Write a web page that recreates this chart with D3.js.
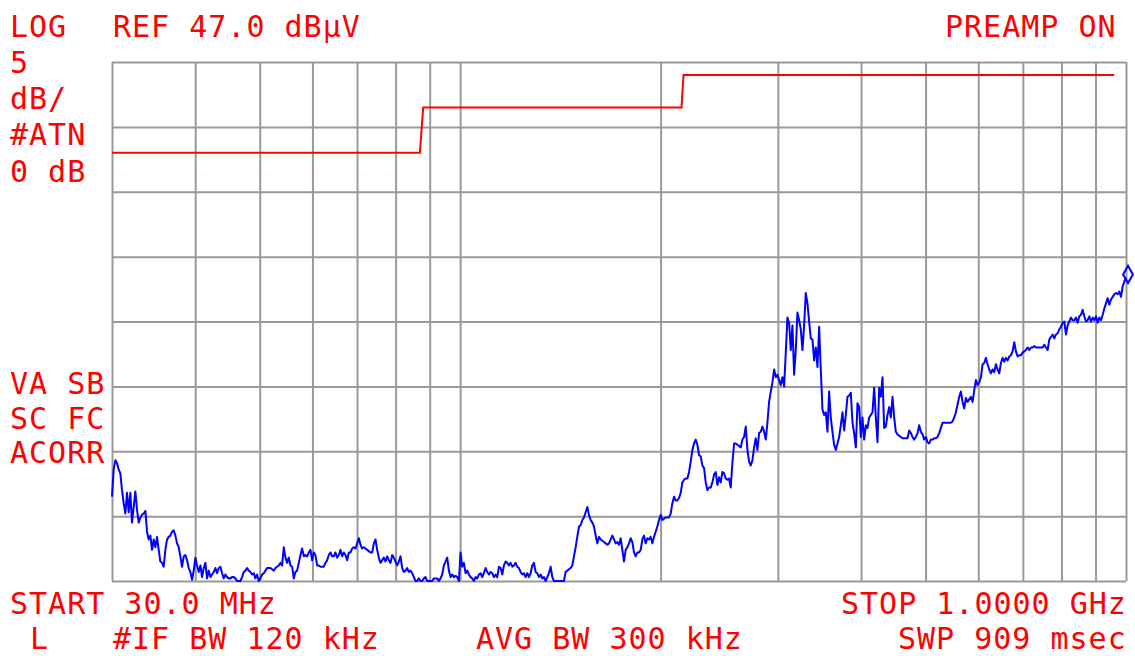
<!DOCTYPE html>
<html>
<head>
<meta charset="utf-8">
<script src="https://cdn.jsdelivr.net/npm/d3@7"></script>
<style>
  body { margin: 0; background: #fff; }
  #chart-area text {
    font-family: "DejaVu Sans Mono", monospace;
    font-size: 30px;
    letter-spacing: 1px;
    fill: #ff0000;
  }
</style>
</head>
<body>
<div id="chart-area"></div>
<script>
// grid frequencies (MHz) of the log axis, 30 MHz .. 1 GHz
var gridFreqs = [30, 40, 50, 60, 70, 80, 90, 100, 200, 300, 400, 500, 600, 700, 800, 900, 1000];
// grid levels (dBuV), REF 47 at the top, 5 dB/div
var gridLevels = [7, 12, 17, 22, 27, 32, 37, 42, 47];

// limit line (red)
var limitFreqs = [30, 87, 88, 215, 216.5, 960];
var limitLevels = [40, 40, 43.5, 43.5, 46, 46];

// measured trace (dBuV), sweep points log-spaced from 30 MHz to 1 GHz
var traceLevels = [
  13.5, 15.6, 16.3, 16.1, 15.6,
  15.3, 14.0, 13.0, 12.2, 13.8, 12.3, 13.8, 11.5, 12.7, 13.9, 12.5, 11.5, 11.9, 12.1, 12.2, 12.4, 10.8, 10.2, 10.5, 9.4, 10.2, 9.6, 10.4, 9.4, 8.5, 8.4, 8.1, 9.4, 10.2, 10.4,
  10.5, 10.8, 10.9, 10.5, 9.9, 9.6, 8.9, 8.1, 8.9, 9.0, 8.6, 8.0, 7.7, 7.1, 7.8, 8.8, 8.2, 7.7, 8.2, 7.3, 8.0, 8.4, 7.2, 7.8, 7.3, 7.5, 7.7, 8.0, 7.6, 8.0,
  8.1, 7.6, 7.2, 7.5, 7.3, 7.2, 7.2, 7.3, 7.3, 7.2, 7.0, 7.0, 7.0, 7.3, 7.7, 7.8, 8.0, 7.8, 7.7, 7.5, 7.6, 7.2, 7.5, 7.0, 7.2, 7.5, 7.6, 7.8, 8.0, 8.0,
  8.0, 7.9, 7.8, 8.0, 8.1, 8.2, 8.4, 8.2, 9.6, 8.8, 8.4, 8.8, 8.2, 8.1, 7.2, 7.7, 7.8, 8.4, 9.0, 9.5, 8.9, 9.0, 8.9, 9.2, 9.4, 8.6, 9.2, 9.0, 8.2, 8.2,
  8.1, 8.1, 8.1, 8.4, 8.6, 9.0, 9.2, 8.9, 8.9, 9.2, 8.8, 9.0, 9.4, 8.9, 9.2, 9.0, 8.6, 9.2, 9.2, 9.5, 9.6, 9.5, 9.9, 10.3, 9.8, 9.5, 9.6, 9.5, 9.4, 9.3,
  9.2, 9.2, 9.9, 10.2, 9.4, 8.8, 8.4, 8.6, 8.8, 8.5, 8.9, 8.6, 8.4, 9.0, 8.8, 8.5, 8.2, 8.5, 8.9, 8.0, 7.7, 7.8, 8.0, 7.7, 7.8, 7.6, 7.3, 7.0, 7.0, 7.2,
  7.0, 7.0, 7.2, 7.3, 7.0, 7.0, 7.0, 7.0, 7.2, 7.2, 7.2, 7.0, 7.2, 7.5, 8.2, 8.5, 8.8, 7.8, 7.3, 7.5, 7.3, 7.4, 7.3, 7.0, 9.2, 8.1, 8.4, 7.6, 7.8, 7.5,
  7.3, 7.2, 7.0, 7.3, 7.2, 7.5, 7.6, 7.3, 7.6, 8.0, 7.7, 7.5, 7.7, 7.6, 7.3, 7.5, 7.3, 8.1, 8.0, 7.5, 8.2, 8.5, 8.4, 8.2, 8.4, 8.1, 8.2, 8.4, 8.1, 8.0,
  7.7, 7.5, 7.6, 7.3, 7.6, 7.3, 7.6, 8.2, 8.4, 7.7, 7.6, 7.3, 7.5, 7.2, 7.3, 7.0, 7.3, 7.6, 8.1, 7.3, 7.0, 7.0, 7.0, 7.0, 7.0, 7.0, 7.0, 7.7, 7.8, 7.9,
  8.0, 8.2, 8.9, 9.6, 10.4, 11.2, 11.3, 11.7, 11.9, 12.3, 12.7, 12.1, 11.7, 11.5, 11.2, 10.5, 9.9, 10.4, 10.2, 10.1, 10.0, 9.9, 9.8, 9.9, 10.2, 10.5, 10.2, 9.9, 10.0, 9.8,
  10.3, 9.4, 8.5, 9.4, 9.6, 9.9, 10.3, 10.0, 9.2, 8.9, 9.2, 9.2, 9.4, 10.2, 10.5, 9.9, 10.3, 10.2, 10.4, 9.9, 10.4, 10.8, 11.2, 11.7, 12.1, 11.7, 11.8, 11.9, 11.9, 11.9,
  12.2, 13.0, 13.5, 13.2, 13.2, 13.4, 13.8, 14.6, 14.8, 14.9, 14.9, 15.4, 16.2, 17.1, 17.6, 17.9, 17.5, 16.7, 16.6, 15.9, 15.7, 14.6, 14.0, 14.2, 14.2, 14.6, 15.2, 15.4, 14.4, 15.0,
  14.6, 15.4, 15.3, 14.9, 14.8, 14.9, 14.2, 16.1, 17.6, 17.6, 17.5, 17.4, 17.3, 17.9, 18.1, 18.9, 17.1, 16.2, 15.9, 16.3, 17.3, 18.0, 17.1, 18.4, 18.5, 18.9, 18.5, 17.9, 19.2, 20.8,
  21.6, 22.3, 23.3, 22.7, 22.9, 22.5, 22.1, 22.7, 22.0, 24.6, 27.3, 26.9, 24.8, 26.7, 22.9, 24.8, 27.7, 27.1, 26.4, 24.8, 26.7, 29.2, 28.4, 27.0, 25.7, 25.6, 24.0, 25.0, 23.5, 26.6,
  23.3, 20.2, 19.8, 20.0, 18.5, 21.6, 19.6, 18.5, 17.5, 17.1, 17.6, 18.1, 19.0, 20.0, 18.6, 19.8, 21.2, 21.3, 21.5, 19.2, 18.4, 17.3, 20.7, 20.4, 18.1, 19.6, 17.9, 19.0, 18.8, 19.6,
  19.8, 20.0, 21.9, 19.6, 17.7, 21.9, 21.2, 22.7, 18.8, 18.9, 19.8, 20.4, 19.6, 21.2, 19.6, 18.5, 18.3, 18.2, 18.1, 18.0, 18.0, 18.0, 18.0, 18.6, 18.4, 18.1, 17.9, 18.1, 18.4, 19.0,
  18.5, 18.3, 17.9, 18.1, 17.7, 17.6, 17.9, 17.9, 18.0, 18.0, 18.1, 18.4, 18.8, 19.2, 19.2, 19.2, 19.2, 19.2, 19.2, 19.3, 19.6, 20.0, 20.6, 21.2, 21.6, 20.8, 20.3, 21.1, 20.8, 21.0,
  21.2, 20.8, 21.7, 22.5, 22.1, 22.3, 22.7, 23.7, 23.8, 24.2, 23.7, 23.3, 23.0, 23.3, 23.1, 23.7, 23.3, 23.0, 23.8, 24.2, 23.9, 24.2, 24.0, 24.3, 24.4, 24.7, 25.4, 24.7, 24.3, 24.4,
  24.4, 24.6, 24.7, 24.8, 25.0, 24.8, 25.0, 25.0, 25.1, 25.0, 25.0, 25.0, 25.0, 25.0, 25.2, 25.0, 24.8, 25.6, 25.8, 26.0, 25.7, 26.0, 26.1, 26.4, 26.6, 26.9, 27.0, 26.0, 26.7, 27.0,
  27.3, 27.1, 27.1, 27.3, 26.9, 27.4, 27.5, 27.9, 27.4, 27.0, 27.1, 27.4, 27.0, 27.3, 27.1, 27.4, 26.9, 27.3, 27.1, 27.5, 28.0, 28.4, 28.8, 28.3, 28.7, 28.9, 29.1, 29.2, 29.1, 29.3,
  28.9, 29.7, 30.1, 30.4
];

// screen annotations
var topLabels = ['LOG', 'REF 47.0 dBµV', 'PREAMP ON'];
var scaleLabels = ['5', 'dB/', '#ATN', '0 dB'];
var modeLabels = ['VA SB', 'SC FC', 'ACORR'];
var bottomLabels = ['START 30.0 MHz', 'STOP 1.0000 GHz', 'L', '#IF BW 120 kHz', 'AVG BW 300 kHz', 'SWP 909 msec'];

var width = 1135, height = 656;
var plot = { left: 112, right: 1126, top: 62, bottom: 581 };

var svg = d3.select('#chart-area')
    .append('svg')
    .attr('width', width)
    .attr('height', height);

var x = d3.scaleLog()
    .domain([30, 1000])
    .range([plot.left, plot.right]);

var y = d3.scaleLinear()
    .domain([7, 47])
    .range([plot.bottom, plot.top])
    .clamp(true);

// trace points are evenly spaced on the log axis
var xIndex = d3.scaleLinear()
    .domain([0, traceLevels.length - 1])
    .range([x(30), x(1000)]);

// grid
svg.append('g')
    .attr('class', 'grid')
    .attr('transform', 'translate(0,' + plot.bottom + ')')
    .call(d3.axisBottom(x).tickValues(gridFreqs).tickSize(-(plot.bottom - plot.top)).tickFormat(''))
    .call(function(g) { g.select('.domain').remove(); });

svg.append('g')
    .attr('class', 'grid')
    .attr('transform', 'translate(' + plot.left + ',0)')
    .call(d3.axisLeft(y).tickValues(gridLevels).tickSize(-(plot.right - plot.left)).tickFormat(''))
    .call(function(g) { g.select('.domain').remove(); });

svg.selectAll('.grid .tick line')
    .attr('stroke', '#999')
    .attr('stroke-width', 2);

// limit line
var limitLine = d3.line()
    .x(function(d) { return x(d[0]); })
    .y(function(d) { return y(d[1]); });

svg.append('path')
    .datum(limitFreqs.map(function(f, i) { return [f, limitLevels[i]]; }))
    .attr('d', limitLine)
    .attr('fill', 'none')
    .attr('stroke', '#ff0000')
    .attr('stroke-width', 2);

// trace
var traceLine = d3.line()
    .x(function(d, i) { return xIndex(i); })
    .y(function(d) { return y(d); });

svg.append('path')
    .datum(traceLevels)
    .attr('d', traceLine)
    .attr('fill', 'none')
    .attr('stroke', '#0000ff')
    .attr('stroke-width', 2)
    .attr('stroke-linejoin', 'round');

// marker at end of trace
var last = traceLevels.length - 1;
svg.append('path')
    .attr('d', d3.symbol().type(d3.symbolDiamond).size(84))
    .attr('transform', 'translate(' + (xIndex(last) + 2) + ',' + (y(traceLevels[last]) - 3) + ')')
    .attr('fill', 'none')
    .attr('stroke', '#0000ff')
    .attr('stroke-width', 2);

// labels
function label(text, px, py) {
    svg.append('text').text(text).attr('x', px).attr('y', py);
}

label(topLabels[0], 10, 37);
label(topLabels[1], 113, 37);
label(topLabels[2], 945, 37);

scaleLabels.forEach(function(t, i) {
    label(t, 10, [73, 109, 145, 182][i]);
});

modeLabels.forEach(function(t, i) {
    label(t, 10, [394, 429, 463][i]);
});

label(bottomLabels[0], 10, 614);
label(bottomLabels[1], 841, 614);
label(bottomLabels[2], 30, 649);
label(bottomLabels[3], 113, 649);
label(bottomLabels[4], 476, 649);
label(bottomLabels[5], 898, 649);
</script>
</body>
</html>
